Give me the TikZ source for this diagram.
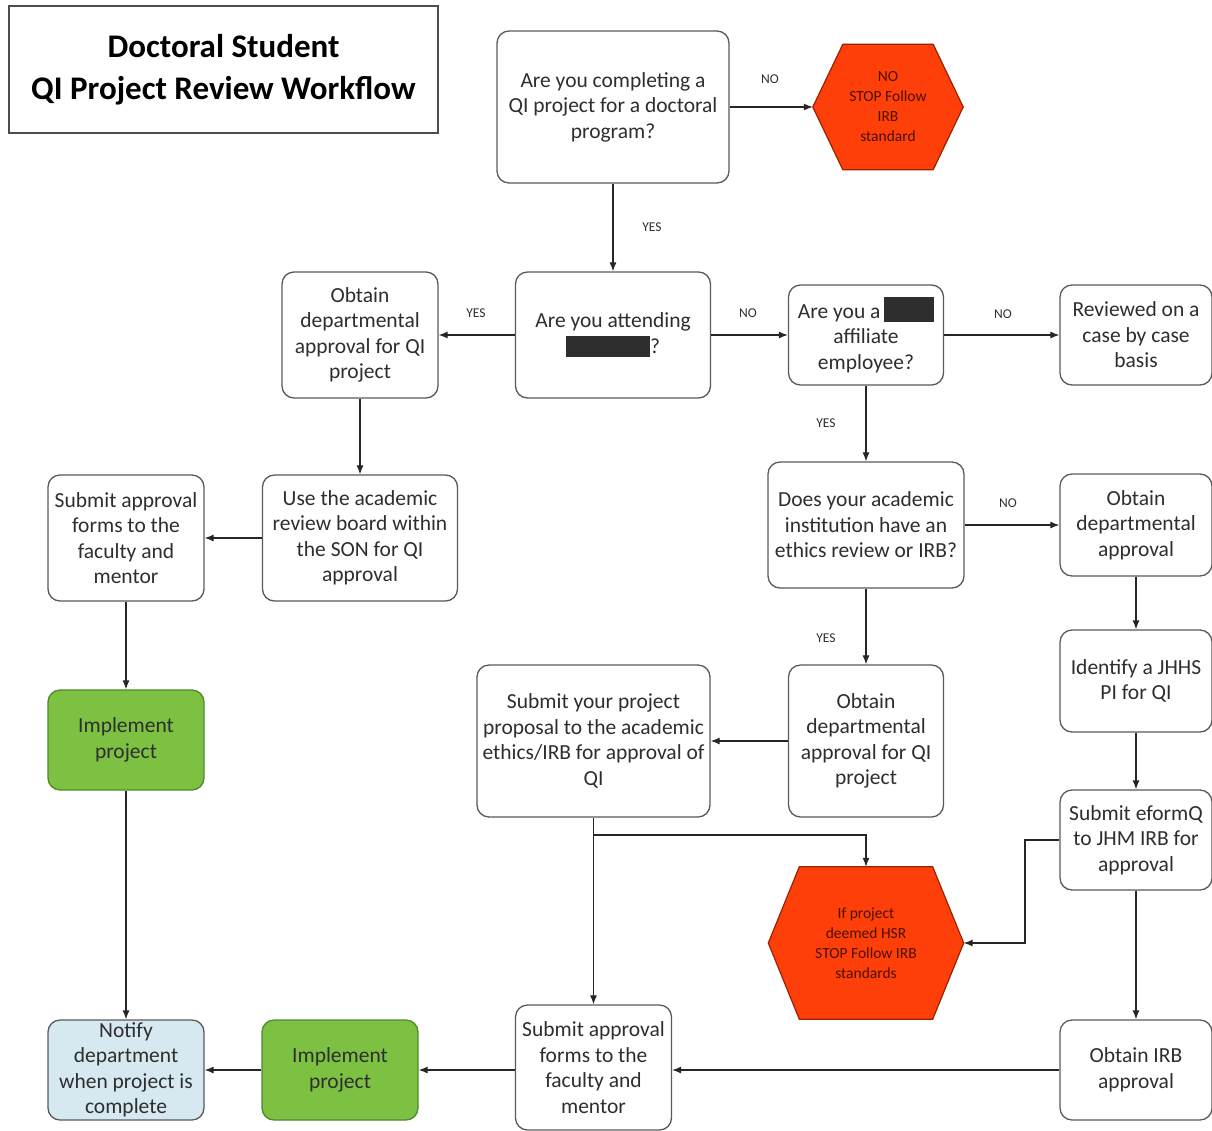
\documentclass[tikz,border=0pt]{standalone}
\usepackage{fontspec}
\setmainfont{Carlito}
\usetikzlibrary{arrows.meta,calc}
\pgfdeclarelayer{background}
\pgfsetlayers{background,main}
\definecolor{boxline}{HTML}{5A5A5A}
\definecolor{boxtext}{HTML}{2E2E2E}
\definecolor{stopfill}{HTML}{FF3F0A}
\definecolor{stopline}{HTML}{9A2200}
\definecolor{stoptext}{HTML}{4A1000}
\definecolor{gofill}{HTML}{7DC142}
\definecolor{goline}{HTML}{4F8A2B}
\definecolor{donefill}{HTML}{D6E9F1}
\newcommand{\redact}[2]{\rule[-4pt]{#1pt}{#2pt}}
\tikzset{
  stepbox/.style={draw=boxline, line width=1.3pt, rounded corners=12pt, fill=white,
    align=center, inner sep=0pt, text=boxtext,
    font=\fontsize{21.5}{25.5}\selectfont},
  gobox/.style={stepbox, fill=gofill, draw=goline},
  donebox/.style={stepbox, fill=donefill},
  stopnode/.style={inner sep=0pt, align=center, text=stoptext,
    font=\fontsize{15.5}{20}\selectfont},
  stopshape/.style={fill=stopfill, draw=stopline, line width=1.2pt, line join=miter},
  flow/.style={draw=black!85, line width=1.1pt, -{Latex[length=9pt,width=7pt]}},
  tag/.style={text=boxtext, font=\fontsize{13.5}{15}\selectfont, inner sep=0pt}
}
\begin{document}
\begin{tikzpicture}[x=1pt,y=-1pt]
\useasboundingbox (0,0) rectangle (1212,1130);

% title
\node[draw=black!70, line width=1.6pt, minimum width=429pt, minimum height=127pt,
  align=center, font=\bfseries\fontsize{33}{42}\selectfont]
  (title) at (223.5,69.5) {Doctoral Student\\QI Project Review Workflow};

% steps
\node[stepbox, minimum width=232pt, minimum height=152pt] (q1) at (613,107)
  {Are you completing a\\QI project for a doctoral\\program?};
\node[stopnode, minimum width=150pt, minimum height=125pt] (hexA) at (888,107)
  {NO\\STOP Follow\\IRB\\standard};
\node[stepbox, minimum width=195pt, minimum height=126pt] (q2) at (613,335)
  {Are you attending\\\redact{84}{21}?};
\node[stepbox, minimum width=156pt, minimum height=126pt] (obt1) at (360,335)
  {Obtain\\departmental\\approval for QI\\project};
\node[stepbox, minimum width=155pt, minimum height=100pt] (aff) at (866,335)
  {Are you a\,\redact{50}{25}\\affiliate\\employee?};
\node[stepbox, minimum width=152pt, minimum height=100pt] (rev) at (1136,335)
  {Reviewed on a\\case by case\\basis};
\node[stepbox, minimum width=196pt, minimum height=126pt] (does) at (866,525)
  {Does your academic\\institution have an\\ethics review or IRB?};
\node[stepbox, minimum width=152pt, minimum height=102pt] (obt2) at (1136,525)
  {Obtain\\departmental\\approval};
\node[stepbox, minimum width=152pt, minimum height=102pt] (ident) at (1136,681)
  {Identify a JHHS\\PI for QI};
\node[stepbox, minimum width=152pt, minimum height=100pt] (eform) at (1136,840)
  {Submit eformQ\\to JHM IRB for\\approval};
\node[stepbox, minimum width=152pt, minimum height=100pt] (obirb) at (1136,1070)
  {Obtain IRB\\approval};
\node[stepbox, minimum width=155pt, minimum height=152pt] (obt3) at (866,741)
  {Obtain\\departmental\\approval for QI\\project};
\node[stepbox, minimum width=233pt, minimum height=152pt] (subprop) at (593.5,741)
  {Submit your project\\proposal to the academic\\ethics/IRB for approval of\\QI};
\node[stopnode, minimum width=195pt, minimum height=152pt] (hexB) at (866,943)
  {If project\\deemed HSR\\STOP Follow IRB\\standards};
\node[stepbox, minimum width=156pt, minimum height=125pt] (subap2) at (593.5,1067.5)
  {Submit approval\\forms to the\\faculty and\\mentor};
\node[gobox, minimum width=156pt, minimum height=100pt] (impl2) at (340,1070)
  {Implement\\project};
\node[donebox, minimum width=156pt, minimum height=100pt] (notify) at (126,1070)
  {Notify\\department\\when project is\\complete};
\node[stepbox, minimum width=156pt, minimum height=126pt] (subap1) at (126,538)
  {Submit approval\\forms to the\\faculty and\\mentor};
\node[stepbox, minimum width=195pt, minimum height=126pt] (use) at (360,538)
  {Use the academic\\review board within\\the SON for QI\\approval};
\node[gobox, minimum width=156pt, minimum height=100pt] (impl1) at (126,740)
  {Implement\\project};

% stop hexagons behind their texts
\begin{pgfonlayer}{background}
\draw[stopshape] (hexA.west) -- ($(hexA.north west)+(30,0)$) -- ($(hexA.north east)+(-30,0)$)
  -- (hexA.east) -- ($(hexA.south east)+(-30,0)$) -- ($(hexA.south west)+(30,0)$) -- cycle;
\draw[stopshape] (hexB.west) -- ($(hexB.north west)+(31,0)$) -- ($(hexB.north east)+(-31,0)$)
  -- (hexB.east) -- ($(hexB.south east)+(-31,0)$) -- ($(hexB.south west)+(31,0)$) -- cycle;
\end{pgfonlayer}

% connectors
\draw[flow] (q1.east) -- (hexA.west);
\draw[flow] (q1.south) -- (q2.north);
\draw[flow] (q2.west) -- (obt1.east);
\draw[flow] (q2.east) -- (aff.west);
\draw[flow] (aff.east) -- (rev.west);
\draw[flow] (aff.south) -- (does.north);
\draw[flow] (does.east) -- (obt2.west);
\draw[flow] (does.south) -- (obt3.north);
\draw[flow] (obt2.south) -- (ident.north);
\draw[flow] (ident.south) -- (eform.north);
\draw[flow] (eform.south) -- (obirb.north);
\draw[flow] (obirb.west) -- (subap2.east |- obirb.west);
\draw[flow] (obt3.west) -- (subprop.east);
\draw[flow] (subprop.south) -- (subap2.north);
\coordinate (split) at (593.5,835);
\draw[flow] (split) -| (hexB.north);
\coordinate (bend) at (1025,840);
\draw[flow] (eform.west) -- (bend) |- (hexB.east);
\draw[flow] (subap2.west |- impl2.east) -- (impl2.east);
\draw[flow] (impl2.west) -- (notify.east);
\draw[flow] (obt1.south) -- (use.north);
\draw[flow] (use.west) -- (subap1.east);
\draw[flow] (subap1.south) -- (impl1.north);
\draw[flow] (impl1.south) -- (notify.north);

% answer tags
\node[tag] (tA) at (770,79) {NO};
\node[tag] (tB) at (652,227) {YES};
\node[tag] (tC) at (476,313) {YES};
\node[tag] (tD) at (748,313) {NO};
\node[tag] (tE) at (1003,314) {NO};
\node[tag] (tF) at (826,423) {YES};
\node[tag] (tG) at (1008,503) {NO};
\node[tag] (tH) at (826,638) {YES};
\end{tikzpicture}
\end{document}
